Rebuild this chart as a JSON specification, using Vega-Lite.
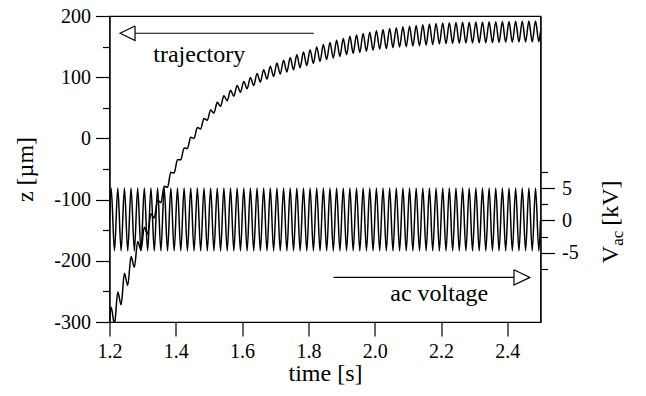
{
  "$schema": "https://vega.github.io/schema/vega-lite/v6.json",
  "width": 431,
  "height": 306,
  "autosize": "none",
  "padding": {"left": 109.5, "top": 16, "right": 105.5, "bottom": 74},
  "background": "white",
  "config": {
    "view": {"stroke": "black", "strokeWidth": 1.2},
    "axis": {
      "domainColor": "black", "domainWidth": 1.2,
      "tickColor": "black", "tickWidth": 1.2, "tickSize": 14,
      "labelFont": "Liberation Serif", "labelFontSize": 20, "labelColor": "black",
      "titleFont": "Liberation Serif", "titleFontSize": 24, "titleFontWeight": "normal", "titleColor": "black",
      "grid": false, "labelFlush": false, "labelOverlap": false
    },
    "text": {"font": "Liberation Serif", "color": "black"},
    "line": {"color": "black", "strokeWidth": 1.5}
  },
  "datasets": {
    "osc": [
      {"t":1.2,"z":-300,"v":0},
      {"t":1.205,"z":-276,"v":5},{"t":1.215,"z":-304,"v":-4.7},
      {"t":1.225,"z":-251,"v":5},{"t":1.235,"z":-272,"v":-4.7},
      {"t":1.245,"z":-220.5,"v":5},{"t":1.255,"z":-240.5,"v":-4.7},
      {"t":1.265,"z":-193,"v":5},{"t":1.275,"z":-210.5,"v":-4.7},
      {"t":1.285,"z":-168.5,"v":5},{"t":1.295,"z":-182.5,"v":-4.7},
      {"t":1.305,"z":-145,"v":5},{"t":1.315,"z":-156,"v":-4.7},
      {"t":1.325,"z":-123,"v":5},{"t":1.335,"z":-130,"v":-4.7},
      {"t":1.345,"z":-101,"v":5},{"t":1.355,"z":-105,"v":-4.7},
      {"t":1.365,"z":-78,"v":5},{"t":1.375,"z":-80,"v":-4.7},
      {"t":1.385,"z":-55.5,"v":5},{"t":1.395,"z":-56.5,"v":-4.7},
      {"t":1.405,"z":-35,"v":5},{"t":1.415,"z":-35,"v":-4.7},
      {"t":1.425,"z":-15.5,"v":5},{"t":1.435,"z":-16.5,"v":-4.7},
      {"t":1.445,"z":2,"v":5},{"t":1.455,"z":0,"v":-4.7},
      {"t":1.465,"z":18,"v":5},{"t":1.475,"z":15.5,"v":-4.7},
      {"t":1.485,"z":32.5,"v":5},{"t":1.495,"z":29.5,"v":-4.7},
      {"t":1.505,"z":46.5,"v":5},{"t":1.515,"z":41.5,"v":-4.7},
      {"t":1.525,"z":59,"v":5},{"t":1.535,"z":52.5,"v":-4.7},
      {"t":1.545,"z":69.5,"v":5},{"t":1.555,"z":61.5,"v":-4.7},
      {"t":1.565,"z":78.5,"v":5},{"t":1.575,"z":69,"v":-4.7},
      {"t":1.585,"z":86.5,"v":5},{"t":1.595,"z":75.5,"v":-4.7},
      {"t":1.605,"z":93,"v":5},{"t":1.615,"z":81,"v":-4.7},
      {"t":1.625,"z":99.5,"v":5},{"t":1.635,"z":86.5,"v":-4.7},
      {"t":1.645,"z":106,"v":5},{"t":1.655,"z":92,"v":-4.7},
      {"t":1.665,"z":112.3,"v":5},{"t":1.675,"z":96.8,"v":-4.7},
      {"t":1.685,"z":117.8,"v":5},{"t":1.695,"z":101.3,"v":-4.7},
      {"t":1.705,"z":123,"v":5},{"t":1.715,"z":105,"v":-4.7},
      {"t":1.725,"z":127.5,"v":5},{"t":1.735,"z":108.5,"v":-4.7},
      {"t":1.745,"z":132,"v":5},{"t":1.755,"z":112,"v":-4.7},
      {"t":1.765,"z":136.5,"v":5},{"t":1.775,"z":115.5,"v":-4.7},
      {"t":1.785,"z":141,"v":5},{"t":1.795,"z":119,"v":-4.7},
      {"t":1.805,"z":145,"v":5},{"t":1.815,"z":122.5,"v":-4.7},
      {"t":1.825,"z":149.5,"v":5},{"t":1.835,"z":125.8,"v":-4.7},
      {"t":1.845,"z":153.3,"v":5},{"t":1.855,"z":128.8,"v":-4.7},
      {"t":1.865,"z":156.8,"v":5},{"t":1.875,"z":131.3,"v":-4.7},
      {"t":1.885,"z":160.3,"v":5},{"t":1.895,"z":133.8,"v":-4.7},
      {"t":1.905,"z":163.3,"v":5},{"t":1.915,"z":136.8,"v":-4.7},
      {"t":1.925,"z":166.8,"v":5},{"t":1.935,"z":139,"v":-4.7},
      {"t":1.945,"z":169,"v":5},{"t":1.955,"z":140.5,"v":-4.7},
      {"t":1.965,"z":171.5,"v":5},{"t":1.975,"z":142.5,"v":-4.7},
      {"t":1.985,"z":173.5,"v":5},{"t":1.995,"z":144,"v":-4.7},
      {"t":2.005,"z":176,"v":5},{"t":2.015,"z":146,"v":-4.7},
      {"t":2.025,"z":177.8,"v":5},{"t":2.035,"z":146.8,"v":-4.7},
      {"t":2.045,"z":179.5,"v":5},{"t":2.055,"z":148.3,"v":-4.7},
      {"t":2.065,"z":180.8,"v":5},{"t":2.075,"z":149.3,"v":-4.7},
      {"t":2.085,"z":182.3,"v":5},{"t":2.095,"z":149.8,"v":-4.7},
      {"t":2.105,"z":183.3,"v":5},{"t":2.115,"z":150.8,"v":-4.7},
      {"t":2.125,"z":184.3,"v":5},{"t":2.135,"z":151.3,"v":-4.7},
      {"t":2.145,"z":185.8,"v":5},{"t":2.155,"z":152.3,"v":-4.7},
      {"t":2.165,"z":186.8,"v":5},{"t":2.175,"z":153.3,"v":-4.7},
      {"t":2.185,"z":187.8,"v":5},{"t":2.195,"z":154.3,"v":-4.7},
      {"t":2.205,"z":188.7,"v":5},{"t":2.215,"z":154.9,"v":-4.7},
      {"t":2.225,"z":189,"v":5},{"t":2.235,"z":155.2,"v":-4.7},
      {"t":2.245,"z":189.3,"v":5},{"t":2.255,"z":155.4,"v":-4.7},
      {"t":2.265,"z":189.6,"v":5},{"t":2.275,"z":155.7,"v":-4.7},
      {"t":2.285,"z":189.8,"v":5},{"t":2.295,"z":155.9,"v":-4.7},
      {"t":2.305,"z":190.1,"v":5},{"t":2.315,"z":156.2,"v":-4.7},
      {"t":2.325,"z":190.3,"v":5},{"t":2.335,"z":156.4,"v":-4.7},
      {"t":2.345,"z":190.5,"v":5},{"t":2.355,"z":156.6,"v":-4.7},
      {"t":2.365,"z":190.7,"v":5},{"t":2.375,"z":156.8,"v":-4.7},
      {"t":2.385,"z":190.9,"v":5},{"t":2.395,"z":157,"v":-4.7},
      {"t":2.405,"z":191.1,"v":5},{"t":2.415,"z":157.2,"v":-4.7},
      {"t":2.425,"z":191.3,"v":5},{"t":2.435,"z":157.4,"v":-4.7},
      {"t":2.445,"z":191.5,"v":5},{"t":2.455,"z":157.6,"v":-4.7},
      {"t":2.465,"z":191.7,"v":5},{"t":2.475,"z":157.8,"v":-4.7},
      {"t":2.485,"z":191.9,"v":5},{"t":2.495,"z":158,"v":-4.7},
      {"t":2.5,"z":175,"v":0}
    ],
    "arrows": [
      {"id":"trajShaft","o":0,"t":1.816,"z":171.8},
      {"id":"trajShaft","o":1,"t":1.277,"z":171.8},
      {"id":"trajHead","o":0,"t":1.277,"z":183.8},
      {"id":"trajHead","o":1,"t":1.232,"z":171.8},
      {"id":"trajHead","o":2,"t":1.277,"z":159.8},
      {"id":"trajHead","o":3,"t":1.277,"z":183.8},
      {"id":"acShaft","o":0,"t":1.876,"z":-227.1},
      {"id":"acShaft","o":1,"t":2.42,"z":-227.1},
      {"id":"acHead","o":0,"t":2.42,"z":-214.6},
      {"id":"acHead","o":1,"t":2.468,"z":-227.1},
      {"id":"acHead","o":2,"t":2.42,"z":-239.6},
      {"id":"acHead","o":3,"t":2.42,"z":-214.6}
    ],
    "notes": [
      {"label":"trajectory","t":1.332,"z":125.4},
      {"label":"ac voltage","t":2.047,"z":-266.3}
    ],
    "vtitle": [
      {"label":"V","t":2.733,"z":-203.8},
      {"label":"[kV]","t":2.733,"z":-142.7}
    ],
    "vsub": [
      {"label":"ac","t":2.748,"z":-175.6}
    ]
  },
  "layer": [
    {
      "data": {"name": "osc"},
      "mark": {"type": "line", "interpolate": "monotone", "clip": true},
      "encoding": {
        "x": {"field": "t", "type": "quantitative", "scale": {"domain": [1.2, 2.5], "nice": false, "zero": false},
          "axis": {
            "title": "time [s]", "titlePadding": 0, "labelPadding": 5,
            "values": [1.2,1.3,1.4,1.5,1.6,1.7,1.8,1.9,2.0,2.1,2.2,2.3,2.4,2.5],
            "labelExpr": "round(datum.value*10) % 2 === 0 ? format(datum.value, '.1f') : ''",
            "tickDash": {"condition": {"test": "round(datum.value*10) % 2 !== 0", "value": [7, 30]}, "value": []}
          }},
        "y": {"field": "z", "type": "quantitative", "scale": {"domain": [-300, 200], "nice": false, "zero": false},
          "axis": {
            "orient": "left", "title": "z [µm]", "titlePadding": 16, "labelPadding": 5,
            "values": [-300,-250,-200,-150,-100,-50,0,50,100,150,200],
            "labelExpr": "datum.value % 100 === 0 ? '' + datum.value : ''",
            "tickDash": {"condition": {"test": "datum.value % 100 !== 0", "value": [7, 30]}, "value": []}
          }}
      }
    },
    {
      "data": {"name": "arrows"},
      "mark": {"type": "line", "strokeWidth": 1.2},
      "encoding": {
        "x": {"field": "t", "type": "quantitative", "scale": {"domain": [1.2, 2.5], "nice": false, "zero": false}},
        "y": {"field": "z", "type": "quantitative", "scale": {"domain": [-300, 200], "nice": false, "zero": false}, "axis": null},
        "detail": {"field": "id"},
        "order": {"field": "o", "type": "quantitative"}
      }
    },
    {
      "data": {"name": "notes"},
      "mark": {"type": "text", "fontSize": 24, "align": "left", "baseline": "alphabetic"},
      "encoding": {
        "x": {"field": "t", "type": "quantitative", "scale": {"domain": [1.2, 2.5], "nice": false, "zero": false}},
        "y": {"field": "z", "type": "quantitative", "scale": {"domain": [-300, 200], "nice": false, "zero": false}, "axis": null},
        "text": {"field": "label"}
      }
    },
    {
      "data": {"name": "vtitle"},
      "mark": {"type": "text", "fontSize": 24, "align": "left", "baseline": "alphabetic", "angle": 270},
      "encoding": {
        "x": {"field": "t", "type": "quantitative", "scale": {"domain": [1.2, 2.5], "nice": false, "zero": false}},
        "y": {"field": "z", "type": "quantitative", "scale": {"domain": [-300, 200], "nice": false, "zero": false}, "axis": null},
        "text": {"field": "label"}
      }
    },
    {
      "data": {"name": "vsub"},
      "mark": {"type": "text", "fontSize": 17, "align": "left", "baseline": "alphabetic", "angle": 270},
      "encoding": {
        "x": {"field": "t", "type": "quantitative", "scale": {"domain": [1.2, 2.5], "nice": false, "zero": false}},
        "y": {"field": "z", "type": "quantitative", "scale": {"domain": [-300, 200], "nice": false, "zero": false}, "axis": null},
        "text": {"field": "label"}
      }
    },
    {
      "data": {"name": "osc"},
      "mark": {"type": "line", "interpolate": "monotone", "clip": true},
      "encoding": {
        "x": {"field": "t", "type": "quantitative", "scale": {"domain": [1.2, 2.5], "nice": false, "zero": false}},
        "y": {"field": "v", "type": "quantitative", "scale": {"domain": [-15.68, 31.58], "nice": false, "zero": false},
          "axis": {
            "orient": "right", "title": null, "labelPadding": 7,
            "values": [-7.5,-5,-2.5,0,2.5,5,7.5],
            "labelExpr": "datum.value % 5 === 0 ? '' + datum.value : ''",
            "tickDash": {"condition": {"test": "datum.value % 5 !== 0", "value": [7, 30]}, "value": []}
          }}
      }
    }
  ],
  "resolve": {"scale": {"y": "independent"}}
}
